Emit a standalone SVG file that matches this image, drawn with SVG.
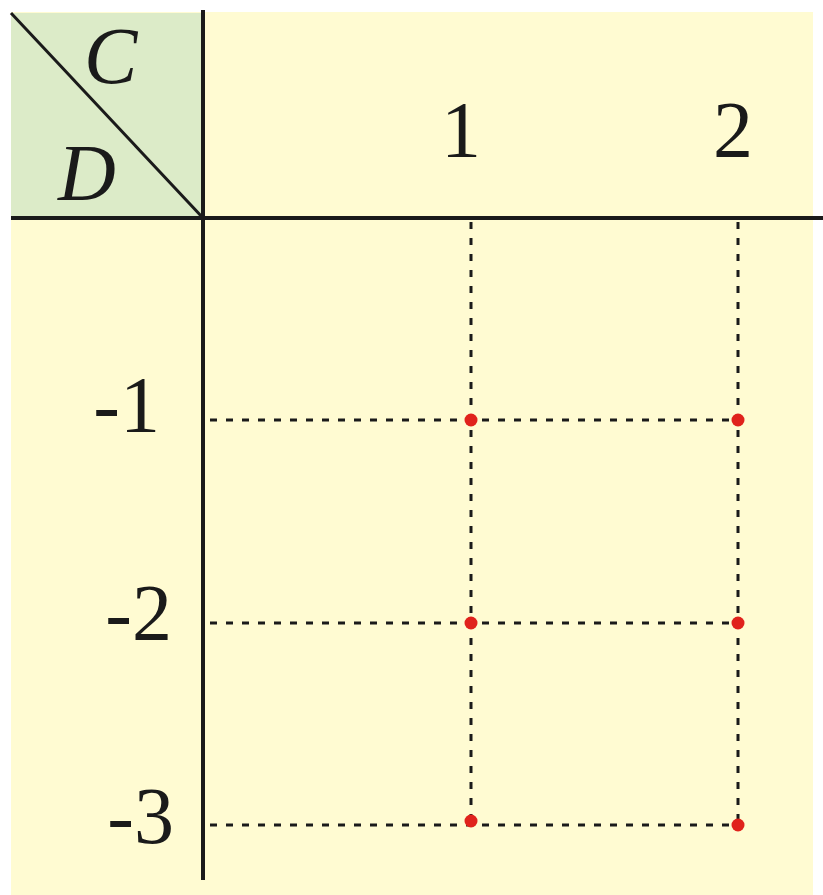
<svg xmlns="http://www.w3.org/2000/svg" width="823" height="895" viewBox="0 0 823 895">
<style>
.t{font-family:"Liberation Serif","Times New Roman",serif;font-size:80px;fill:#1a1a1a}
.i{font-style:italic}
.ax{stroke:#1a1a1a;stroke-width:4;fill:none}
.d{stroke:#1a1a1a;stroke-width:3;stroke-dasharray:7 9;fill:none}
.dot{fill:#e0221c}
</style>
<rect x="0" y="0" width="823" height="895" fill="#ffffff"/>
<rect x="11" y="12" width="802" height="883" fill="#fffbd2"/>
<g id="corner">
<rect x="11" y="13" width="192" height="205" fill="#dcebc8"/>
<line x1="11" y1="13" x2="203" y2="218" stroke="#1a1a1a" stroke-width="3"/>
<text class="t i" x="84" y="83">C</text>
<text class="t i" x="58" y="200">D</text>
</g>
<g id="connectors">
<line class="d" x1="471" y1="222" x2="471" y2="820"/>
<line class="d" x1="738" y1="222" x2="738" y2="825"/>
<line class="d" x1="210" y1="420" x2="738" y2="420"/>
<line class="d" x1="210" y1="623" x2="738" y2="623"/>
<line class="d" x1="210" y1="825" x2="738" y2="825"/>
</g>
<g id="axes">
<line class="ax" x1="11" y1="218" x2="823" y2="218"/>
<line class="ax" x1="203" y1="10" x2="203" y2="880"/>
</g>
<g id="labels">
<text class="t" x="461" y="157" text-anchor="middle">1</text>
<text class="t" x="733" y="157" text-anchor="middle">2</text>
<text class="t" x="160" y="432" text-anchor="end">-1</text>
<text class="t" x="172" y="640" text-anchor="end">-2</text>
<text class="t" x="174" y="843" text-anchor="end">-3</text>
</g>
<g id="points">
<circle class="dot" cx="471" cy="420" r="6.5"/>
<circle class="dot" cx="738" cy="420" r="6.5"/>
<circle class="dot" cx="471" cy="623" r="6.5"/>
<circle class="dot" cx="738" cy="623" r="6.5"/>
<circle class="dot" cx="471" cy="821" r="6.5"/>
<circle class="dot" cx="738" cy="825" r="6.5"/>
</g>
</svg>
